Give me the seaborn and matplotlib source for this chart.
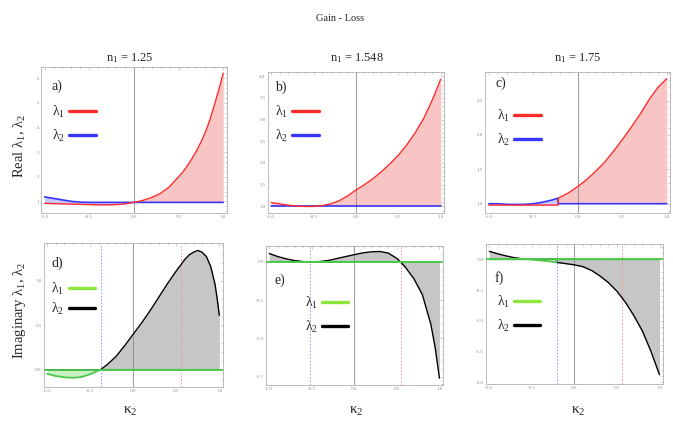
import seaborn as sns
import matplotlib.pyplot as plt
from matplotlib.lines import Line2D
from matplotlib.ticker import MultipleLocator, AutoMinorLocator

# --- data ---
titles = ['n$_1$ = 1.25', 'n$_1$ = 1.548', 'n$_1$ = 1.75']
x_ticks = [-1.0, -0.5, 0.0, 0.5, 1.0]

# a) real parts, n1 = 1.25
xa = [-1.0, -0.9, -0.8, -0.7, -0.6, -0.5, -0.4, -0.3, -0.2, -0.1, 0.0,
      0.1, 0.2, 0.3, 0.4, 0.5, 0.55, 0.6, 0.65, 0.7, 0.75, 0.8, 0.85, 0.9, 0.95, 1.0]
re1_a = [0.92, 0.91, 0.9, 0.89, 0.88, 0.87, 0.86, 0.86, 0.87, 0.9, 0.96,
         1.04, 1.16, 1.33, 1.6, 2.0, 2.2, 2.45, 2.73, 3.05, 3.4, 3.8, 4.3, 4.9, 5.52, 6.2]
re2_a = [1.18, 1.12, 1.06, 1.0, 0.97, 0.96, 0.96, 0.96, 0.96, 0.96, 0.96,
         0.96, 0.96, 0.96, 0.96, 0.96, 0.96, 0.96, 0.96, 0.96, 0.96, 0.96, 0.96, 0.96, 0.96, 0.96]

# b) real parts, n1 = 1.548
xb = [-1.0, -0.9, -0.8, -0.7, -0.6, -0.5, -0.4, -0.3, -0.2, -0.1, 0.0,
      0.1, 0.2, 0.3, 0.4, 0.5, 0.6, 0.7, 0.8, 0.9, 1.0]
re1_b = [1.09, 1.06, 1.03, 1.01, 1.0, 1.0, 1.02, 1.06, 1.13, 1.24, 1.38,
         1.5, 1.64, 1.8, 1.98, 2.18, 2.42, 2.7, 3.03, 3.45, 3.93]
re2_b = [1.0, 1.0, 1.0, 1.0, 1.0, 1.0, 1.0, 1.0, 1.0, 1.0, 1.0,
         1.0, 1.0, 1.0, 1.0, 1.0, 1.0, 1.0, 1.0, 1.0, 1.0]

# c) real parts, n1 = 1.75 (branches swap at kappa2 = -0.22)
xc = [-1.0, -0.9, -0.8, -0.7, -0.6, -0.5, -0.4, -0.3, -0.22, -0.22, -0.1,
      0.0, 0.1, 0.2, 0.3, 0.4, 0.5, 0.6, 0.7, 0.8, 0.9, 1.0]
re1_c = [0.98, 0.98, 0.98, 0.98, 0.98, 0.98, 0.98, 0.98, 0.98, 1.08, 1.16,
         1.25, 1.35, 1.47, 1.6, 1.76, 1.93, 2.11, 2.3, 2.51, 2.69, 2.82]
re2_c = [1.0, 1.0, 0.99, 0.99, 0.99, 1.0, 1.02, 1.05, 1.08, 1.0, 1.0,
         1.0, 1.0, 1.0, 1.0, 1.0, 1.0, 1.0, 1.0, 1.0, 1.0, 1.0]

# d) imaginary parts, n1 = 1.25
xd = [-1.0, -0.9, -0.8, -0.7, -0.6, -0.5, -0.38, -0.3, -0.2, -0.1, 0.0,
      0.1, 0.2, 0.3, 0.4, 0.5, 0.6, 0.65, 0.7, 0.75, 0.8, 0.85, 0.9, 0.95, 0.975, 1.0]
im1_d = [-0.045, -0.07, -0.085, -0.09, -0.08, -0.05, 0.0, 0.0, 0.0, 0.0, 0.0,
         0.0, 0.0, 0.0, 0.0, 0.0, 0.0, 0.0, 0.0, 0.0, 0.0, 0.0, 0.0, 0.0, 0.0, 0.0]
im2_d = [0.0, 0.0, 0.0, 0.0, 0.0, 0.0, 0.0, 0.06, 0.15, 0.27, 0.4,
         0.53, 0.67, 0.82, 0.97, 1.11, 1.24, 1.29, 1.32, 1.34, 1.32, 1.27, 1.16, 0.96, 0.8, 0.61]

# e) imaginary parts, n1 = 1.548
xe = [-1.0, -0.9, -0.8, -0.7, -0.6, -0.5, -0.4, -0.3, -0.2, -0.1, 0.0,
      0.1, 0.2, 0.3, 0.4, 0.5, 0.55, 0.6, 0.7, 0.8, 0.9, 0.95, 1.0]
im1_e = [0.0, 0.0, 0.0, 0.0, 0.0, 0.0, 0.0, 0.0, 0.0, 0.0, 0.0,
         0.0, 0.0, 0.0, 0.0, 0.0, 0.0, 0.0, 0.0, 0.0, 0.0, 0.0, 0.0]
im2_e = [0.11, 0.07, 0.04, 0.017, 0.004, 0.0, 0.005, 0.02, 0.045, 0.07, 0.095,
         0.118, 0.132, 0.136, 0.115, 0.045, -0.01, -0.07, -0.22, -0.43, -0.82, -1.12, -1.52]

# f) imaginary parts, n1 = 1.75
xf = [-1.0, -0.9, -0.8, -0.7, -0.6, -0.55, -0.5, -0.4, -0.3, -0.21, -0.21,
      -0.1, 0.0, 0.1, 0.2, 0.3, 0.4, 0.5, 0.6, 0.7, 0.8, 0.9, 1.0]
im1_f = [0.0, 0.0, 0.0, 0.0, 0.0, 0.0, -0.005, -0.017, -0.032, -0.05, 0.0,
         0.0, 0.0, 0.0, 0.0, 0.0, 0.0, 0.0, 0.0, 0.0, 0.0, 0.0, 0.0]
im2_f = [0.13, 0.09, 0.055, 0.025, 0.006, 0.0, 0.0, 0.0, 0.0, 0.0, -0.05,
         -0.07, -0.09, -0.12, -0.18, -0.27, -0.38, -0.52, -0.7, -0.92, -1.17, -1.5, -1.88]

# exceptional points (dashed markers in the imaginary panels)
ep_blue = [-0.38, -0.525, -0.21]
ep_red = [0.556, 0.544, 0.56]

RED = '#ff2a2a'
BLUE = '#3535ff'
GREEN = '#4cc84c'
GREEN_LEG = '#8ee63a'

sns.set_theme(style='white')
plt.rcParams['font.family'] = ['Liberation Serif', 'DejaVu Serif']
plt.rcParams['mathtext.fontset'] = 'custom'
plt.rcParams['mathtext.rm'] = 'Liberation Serif'
plt.rcParams['mathtext.it'] = 'Liberation Serif:italic'
plt.rcParams['mathtext.default'] = 'regular'


def frame(ax, ylim, ystep):
	ax.set_xlim(-1.04, 1.04)
	ax.set_ylim(*ylim)
	ax.set_xticks(x_ticks)
	ax.set_xticklabels([f'{v:.1f}' for v in x_ticks])
	ax.yaxis.set_major_locator(MultipleLocator(ystep))
	ax.xaxis.set_minor_locator(AutoMinorLocator(5))
	ax.yaxis.set_minor_locator(AutoMinorLocator(5))
	if ystep < 1:
		ax.yaxis.set_major_formatter(plt.FuncFormatter(lambda v, p: f'{v:.1f}'))
	else:
		ax.yaxis.set_major_formatter(plt.FuncFormatter(lambda v, p: f'{v:.0f}'))
	ax.tick_params(which='both', direction='in', top=True, right=True, color='#aaaaaa',
		width=0.4, labelsize=3.6, labelcolor='#888888', pad=1.5)
	ax.tick_params(which='major', length=2.5)
	ax.tick_params(which='minor', length=1.3)
	for s in ax.spines.values():
		s.set_color('#b0b0b0')
		s.set_linewidth(0.6)
	ax.axvline(0, color='#8a8a8a', lw=0.6, zorder=2)


def legend(ax, colors, pos, spacing=0.55):
	handles = [Line2D([], [], color=c, lw=2.4) for c in colors]
	ax.legend(handles, ['λ$_1$', 'λ$_2$'], loc='center left', bbox_to_anchor=pos,
		frameon=False, markerfirst=False, fontsize=10, handlelength=1.9,
		handletextpad=0.3, labelspacing=spacing, borderpad=0, borderaxespad=0)


def draw_real(ax, x, l1, l2, ylim, ystep, tag, tagpos, legpos):
	ax.fill_between(x, l1, l2, where=[a >= b for a, b in zip(l1, l2)], interpolate=True,
		color='#f9c4c4', lw=0, zorder=1)
	ax.fill_between(x, l1, l2, where=[a <= b for a, b in zip(l1, l2)], interpolate=True,
		color='#c9c9ff', lw=0, zorder=1)
	frame(ax, ylim, ystep)
	sns.lineplot(x=x, y=l2, ax=ax, color=BLUE, lw=1.2, sort=False, estimator=None, zorder=3)
	sns.lineplot(x=x, y=l1, ax=ax, color=RED, lw=1.0, sort=False, estimator=None, zorder=4)
	ax.text(tagpos[0], tagpos[1], tag, transform=ax.transAxes, fontsize=10, va='center')
	legend(ax, [RED, BLUE], legpos)
	ax.set_xlabel('')
	ax.set_ylabel('')


def draw_imag(ax, x, l1, l2, ylim, ep_b, ep_r, tag, tagpos, legpos, spacing=0.55):
	zero = [0.0 for _ in x]
	ax.fill_between(x, l2, zero, color='#c6c6c6', lw=0, zorder=1)
	ax.fill_between(x, l1, zero, color='#c8f0c0', lw=0, zorder=1)
	frame(ax, ylim, 0.5)
	ax.axvline(ep_b, color='#8c8cff', lw=0.6, ls=(0, (2, 2)), zorder=2)
	ax.axvline(ep_r, color='#ff8c8c', lw=0.6, ls=(0, (2, 2)), zorder=2)
	sns.lineplot(x=x, y=l2, ax=ax, color='black', lw=1.0, sort=False, estimator=None, zorder=3)
	# zero branch of lambda_1 runs the full width on top of lambda_2
	ax.axhline(0, color=GREEN, lw=1.3, zorder=4)
	sns.lineplot(x=x, y=l1, ax=ax, color=GREEN, lw=1.3, sort=False, estimator=None, zorder=4)
	ax.text(tagpos[0], tagpos[1], tag, transform=ax.transAxes, fontsize=10, va='center')
	legend(ax, [GREEN_LEG, 'black'], legpos, spacing)
	ax.set_xlabel('')
	ax.set_ylabel('')


fig = plt.figure(figsize=(6.73, 4.23), dpi=100)
ax_a = fig.add_axes([0.061, 0.4965, 0.276, 0.345])
ax_b = fig.add_axes([0.398, 0.4965, 0.262, 0.334])
ax_c = fig.add_axes([0.721, 0.4965, 0.275, 0.334])
ax_d = fig.add_axes([0.065, 0.0858, 0.266, 0.339])
ax_e = fig.add_axes([0.395, 0.0898, 0.263, 0.329])
ax_f = fig.add_axes([0.722, 0.0922, 0.263, 0.331])

draw_real(ax_a, xa, re1_a, re2_a, (0.53, 6.45), 1, 'a)', (0.058, 0.865), (0.058, 0.61))
draw_real(ax_b, xb, re1_b, re2_b, (0.85, 4.1), 0.5, 'b)', (0.04, 0.89), (0.04, 0.63))
draw_real(ax_c, xc, re1_c, re2_c, (0.865, 2.92), 0.5, 'c)', (0.058, 0.92), (0.063, 0.60))
draw_imag(ax_d, xd, im1_d, im2_d, (-0.19, 1.42), ep_blue[0], ep_red[0], 'd)', (0.043, 0.86), (0.043, 0.61), 0.3)
draw_imag(ax_e, xe, im1_e, im2_e, (-1.61, 0.21), ep_blue[1], ep_red[1], 'e)', (0.05, 0.755), (0.22, 0.505))
draw_imag(ax_f, xf, im1_f, im2_f, (-2.03, 0.25), ep_blue[2], ep_red[2], 'f)', (0.05, 0.76), (0.06, 0.50))

fig.text(0.505, 0.957, 'Gain - Loss', ha='center', va='center', fontsize=7.5)
for xpos, t in zip([0.193, 0.53, 0.859], titles):
	fig.text(xpos, 0.863, t, ha='center', va='center', fontsize=9)
	fig.text(xpos, 0.027, 'κ$_2$', ha='center', va='center', fontsize=11)
fig.text(0.03, 0.655, 'Real λ$_1$, λ$_2$', rotation=90, ha='center', va='center', fontsize=10.5)
fig.text(0.029, 0.267, 'Imaginary λ$_1$, λ$_2$', rotation=90, ha='center', va='center', fontsize=10.5)

fig.savefig('out.png', dpi=100)
